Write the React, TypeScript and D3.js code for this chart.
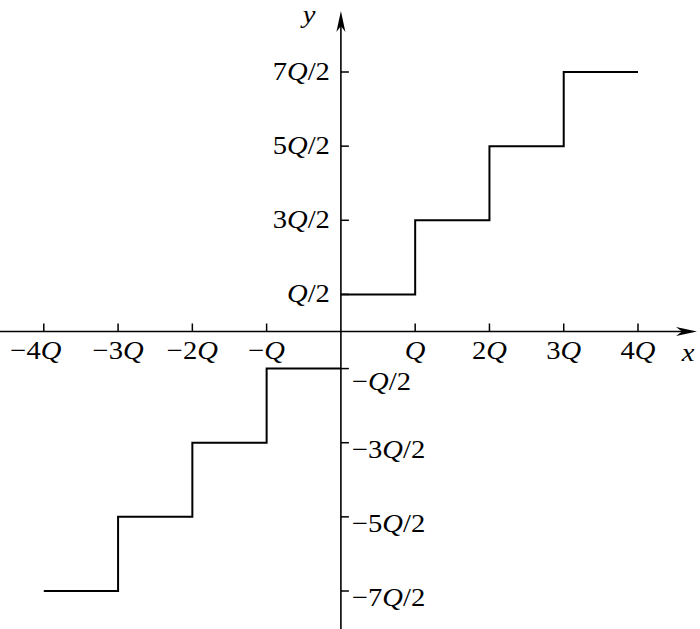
import React from "react";
import * as d3 from "d3";

// Data
const xTicks = [-4, -3, -2, -1, 1, 2, 3, 4];
const xTickLabels = ["−4Q", "−3Q", "−2Q", "−Q", "Q", "2Q", "3Q", "4Q"];
const yTicks = [3.5, 2.5, 1.5, 0.5, -0.5, -1.5, -2.5, -3.5];
const yTickLabels = ["7Q/2", "5Q/2", "3Q/2", "Q/2", "−Q/2", "−3Q/2", "−5Q/2", "−7Q/2"];
// step function: level on [start, start+1)
const stepStarts = [-4, -3, -2, -1, 0, 1, 2, 3];
const stepLevels = [-3.5, -2.5, -1.5, -0.5, 0.5, 1.5, 2.5, 3.5];

const W = 700;
const H = 629;
const FONT = "'Liberation Serif', 'Times New Roman', serif";
const FS = 26;
const SX = 1.1;

function Label({ text, x, y, anchor }: { text: string; x: number; y: number; anchor: string }) {
  const i = text.indexOf("Q");
  const pre = i >= 0 ? text.slice(0, i) : text;
  const post = i >= 0 ? text.slice(i + 1) : "";
  return (
    <g transform={`translate(${x},${y}) scale(${SX},1)`}>
      <text textAnchor={anchor} fontFamily={FONT} fontSize={FS} fill="#000">
        {pre}
        {i >= 0 && <tspan fontStyle="italic">Q</tspan>}
        {post}
      </text>
    </g>
  );
}

export default function App() {
  const x = d3.scaleLinear().domain([-4, 4]).range([43.8, 638]);
  const y = d3.scaleLinear().domain([-3.5, 3.5]).range([591, 72]);
  const x0 = x(0);
  const y0 = y(0);

  const negPts: [number, number][] = [];
  const posPts: [number, number][] = [];
  stepStarts.forEach((s, i) => {
    const arr = stepLevels[i] < 0 ? negPts : posPts;
    arr.push([s, stepLevels[i]]);
  });
  negPts.push([0, stepLevels[3]]);
  posPts.push([4, stepLevels[7]]);
  const line = d3
    .line<[number, number]>()
    .x((d) => x(d[0]))
    .y((d) => y(d[1]))
    .curve(d3.curveStepAfter);

  const yTop = 11;
  const xRight = 697;
  const aLen = 21;
  const aW = 4.5;
  const notch = 6;

  return (
    <svg
      width={W}
      height={H}
      style={{ position: "absolute", left: 0, top: 0, background: "#fff" }}
    >
      {/* axes */}
      <line x1={0} y1={y0} x2={xRight - 8} y2={y0} stroke="#000" strokeWidth={1.6} />
      <line x1={x0} y1={H} x2={x0} y2={yTop + 8} stroke="#000" strokeWidth={1.6} />
      {/* arrow heads */}
      <path
        d={`M${xRight},${y0} L${xRight - aLen},${y0 - aW} L${xRight - aLen + notch},${y0} L${xRight - aLen},${y0 + aW} Z`}
        fill="#000"
      />
      <path
        d={`M${x0},${yTop} L${x0 - aW},${yTop + aLen} L${x0},${yTop + aLen - notch} L${x0 + aW},${yTop + aLen} Z`}
        fill="#000"
      />
      {/* x ticks */}
      {xTicks.map((t, i) => (
        <g key={"xt" + i}>
          <line x1={x(t)} x2={x(t)} y1={y0} y2={y0 - 8} stroke="#000" strokeWidth={1.5} />
          <Label text={xTickLabels[i]} x={x(t) + (i === 0 ? -8 : 0)} y={y0 + 27} anchor="middle" />
        </g>
      ))}
      {/* y ticks */}
      {yTicks.map((t, i) => (
        <g key={"yt" + i}>
          <line x1={x0} x2={x0 + 8} y1={y(t)} y2={y(t)} stroke="#000" strokeWidth={1.5} />
          {t > 0 ? (
            <Label text={yTickLabels[i]} x={x0 - 11} y={y(t) + 8} anchor="end" />
          ) : (
            <Label
              text={yTickLabels[i]}
              x={x0 + 11}
              y={y(t) + (t === -0.5 ? 21 : 15)}
              anchor="start"
            />
          )}
        </g>
      ))}
      {/* step lines */}
      <path d={line(negPts) || ""} fill="none" stroke="#000" strokeWidth={2} />
      <path d={line(posPts) || ""} fill="none" stroke="#000" strokeWidth={2} />
      {/* axis names */}
      <g transform={`translate(309,23) scale(${SX},1)`}>
        <text textAnchor="middle" fontFamily={FONT} fontSize={FS} fontStyle="italic">
          y
        </text>
      </g>
      <g transform={`translate(688,361) scale(${SX},1)`}>
        <text textAnchor="middle" fontFamily={FONT} fontSize={FS} fontStyle="italic">
          x
        </text>
      </g>
    </svg>
  );
}
